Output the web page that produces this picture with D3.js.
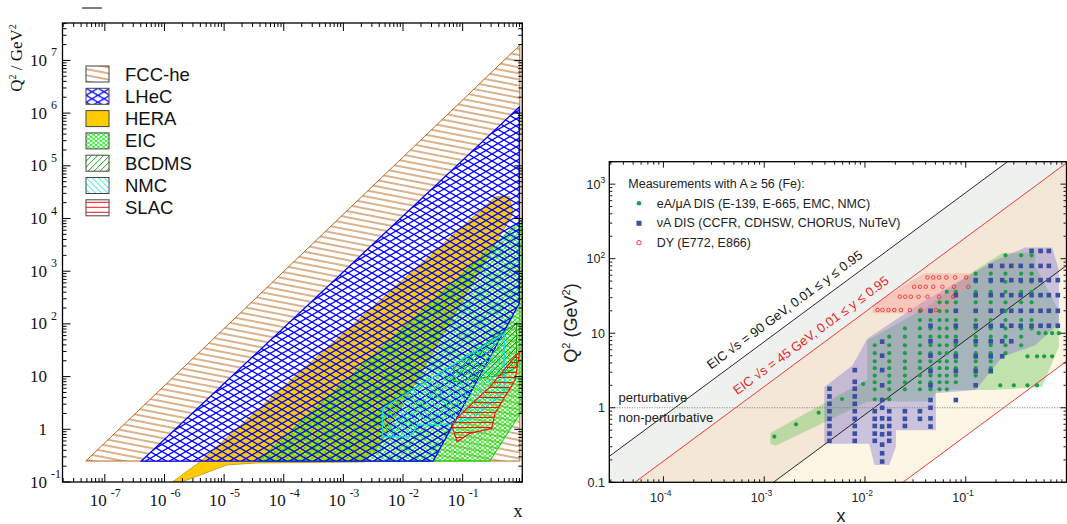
<!DOCTYPE html>
<html>
<head>
<script src="https://d3js.org/d3.v7.min.js"></script>
<style>
body { margin: 0; background: #fff; }
svg { display: block; }
.serif { font-family: "Liberation Serif", "DejaVu Serif", serif; }
.sans { font-family: "Liberation Sans", Arial, sans-serif; }
</style>
</head>
<body>
<svg width="1067" height="524"></svg>
<script>
// ---------- left panel: kinematic coverage, corners as [x, Q2] ----------
var fccEdge   = [[4.8e-8,0.25],[0.91,1.95e7],[0.91,0.25]];
var lhecEdge  = [[4.1e-7,0.25],[0.89,1.3e6],[0.89,245],[0.032,0.25]];
var heraEdge  = [[1.36e-6,0.1],[3.9e-6,0.24],[0.36,2.6e4],[0.61,2.6e4],[0.70,1.26e4],[0.056,88],
                 [3.9e-3,0.47],[2.3e-3,0.24],[3.5e-5,0.23],[1.1e-5,0.21],[1.93e-6,0.1]];
var eicEdge   = [[3.7e-5,0.25],[0.95,9300],[1,9300],[1,2.3],[0.287,0.25]];
var bcdmsEdge = [[0.07,16.6],[0.07,8],[0.47,10.7],[0.8,15.4],[0.8,103]];
var nmcEdge   = [[4.5e-3,2.5],[4.5e-3,0.72],[0.013,0.72],[0.018,1.2],[0.07,1.26],[0.15,1.64],[0.5,5.2],[0.5,66]];
var slacEdge  = [[0.0654,1.21],[0.081,0.58],[0.132,0.84],[0.307,1.04],[0.348,2.0],[0.755,8.6],[0.91,30],
                 [0.755,24],[0.287,6.4],[0.096,2.0]];
var legendNames = ["FCC-he","LHeC","HERA","EIC","BCDMS","NMC","SLAC"];
var leftXExp = [-7,-6,-5,-4,-3,-2,-1];
var leftYExp = [-1,0,1,2,3,4,5,6,7];

// ---------- right panel: nuclear data, Q2 = c*x boundary lines ----------
var lineCoef = [7695, 1924, 81, 4.2];
var greenZone = [[1.15e-3,0.33],[1.15e-3,0.46],[0.0105,2.4],[0.0105,8.0],[0.04,22],[0.116,66],[0.23,119],
                 [0.49,121],[0.49,80],[0.84,20],[0.84,6.6],[0.57,1.9],[0.18,1.73],[0.052,1.73],[0.045,1.22],
                 [0.0105,1.2],[1.3e-3,0.31]];
var blueZone  = [[3.95e-3,1.9],[3.95e-3,0.33],[0.011,0.33],[0.0124,0.17],[0.0174,0.17],[0.0203,0.30],
                 [0.0203,0.50],[0.0505,0.50],[0.0505,1.56],[0.1256,1.73],[0.23,4.8],[0.49,6.9],[0.84,13.5],
                 [0.84,70],[0.72,141],[0.39,141],[0.2,96],[0.037,26],[0.0106,8.5],[7.5e-3,3.7]];
var dyZone    = [[0.0119,18.5],[0.0119,24],[0.0387,64],[0.112,64],[0.112,48],[0.06,18.3]];

var greenCols = [
  [0.0125, [1.3,1.77,2.2,2.7,3.4,4.2,5.4,6.9]],
  [0.0174, [1.3,1.77,2.2,2.7,3.4,4.2,5.4,6.9,9.0]],
  [0.0249, [1.77,2.2,2.7,3.4,4.2,5.4,6.9,9.0,11.6]],
  [0.0351, [1.77,2.2,2.7,3.4,4.2,5.4,6.9,9.0,11.6,15,19.8]],
  [0.0447, [1.77,2.2,2.7,3.4,4.2,5.4,6.9,9.0,11.6,15,19.8]],
  [0.055,  [1.77,2.2,2.7,3.4,4.2,5.4,6.9,9.0,11.6,15,19.8,26]],
  [0.0649, [1.77,2.2,2.7,3.4,4.2,5.4,6.9,9.0,11.6,15,19.8,26,36]],
  [0.0797, [2.2,2.7,3.4,4.2,5.4,6.9,9.0,11.6,15,19.8,26,36]],
  [0.1256, [2.7,3.4,4.2,5.4,6.9,9.0,11.6,15,19.8,26,36,49,63]],
  [0.177,  [3.4,4.2,5.4,6.9,9.0,11.6,15,19.8,26,36,49,63]],
  [0.248,  [5.4,6.9,9.0,11.6,15,19.8,26,36,49,63,111]],
  [0.355,  [6.9,9.0,11.6,15,19.8,26,36,49,63,111]],
  [0.45,   [11.6,15,19.8,26,36,49,63,111]]
];
var greenExtra = [[1.26e-3,0.41],[2.07e-3,0.60],[3.47e-3,0.86],[5.92e-3,1.31],[9.6e-3,2.08],
                  [0.22,2.0],[0.30,2.0],[0.41,2.0],[0.51,2.0],[0.41,4.9],[0.51,4.9],[0.6,4.9],[0.72,4.9],
                  [0.53,10],[0.62,10],[0.72,10],[0.84,10]];
var blueCols = [
  [0.00444, [0.36,0.45,0.57,0.71,0.9,1.13,1.42,1.8]],
  [0.00792, [0.36,0.45,0.57,0.71,0.9,1.13,1.42,1.8,2.23,3.2]],
  [0.0125,  [0.36,0.45,0.57,0.71,0.9]],
  [0.0148,  [0.19,0.245,0.32,0.44,0.56,0.72,1.0,1.27,2.0,3.2,5.0,7.7]],
  [0.0174,  [0.36,0.45,0.57,0.71,0.9]],
  [0.0249,  [0.57,0.71,0.9]],
  [0.0351,  [0.71,0.9]],
  [0.0447,  [0.56,0.72,1.0,1.27,2.0,3.1,5.0,7.8,12.6,20]],
  [0.0797,  [1.27,3.1,4.9,7.8,12.6,20,32.4]],
  [0.1256,  [2.0,3.1,4.9,7.8,12.6,20,32.4,51.5]],
  [0.177,   [3.1,4.9,7.8,12.6,20,32.4,51.5,80]],
  [0.23,    [4.9,7.8,12.6,20,32.4,51.5,80]],
  [0.283,   [7.8,12.6,20,32.4,51.5,80]],
  [0.351,   [12.6,20,32.4,51.5,80]],
  [0.45,    [12.6,20,32.4,51.5,80,127]],
  [0.553,   [12.6,20,32.4,51.5,80,127]],
  [0.668,   [12.6,20,32.4,51.5,80,127]],
  [0.82,    [12.6,20,32.4,51.5]]
];
var dyRows = [
  [20.5, [0.0133,0.0149,0.0171,0.0195,0.0227,0.0279,0.0358,0.0505]],
  [30.9, [0.0222,0.0251,0.0285,0.034,0.0417,0.0544,0.0754]],
  [42,   [0.0307,0.0352,0.0401,0.0475,0.0587,0.0766,0.106]],
  [56,   [0.0417,0.0475,0.0544,0.0642,0.0784,0.101]]
];
var rightXExp = [-4,-3,-2,-1];
var rightYTicks = [0.1,1,10,100,1000];

var svg = d3.select("svg");

function logTicks(lo, hi) {
  var out = [];
  for (var e = Math.floor(Math.log10(lo)); e <= Math.ceil(Math.log10(hi)); e++) {
    for (var m = 1; m < 10; m++) {
      var v = m * Math.pow(10, e);
      if (v >= lo * 0.9999 && v <= hi * 1.0001) out.push({v: v, major: m === 1});
    }
  }
  return out;
}

// ---------- patterns ----------
var defs = svg.append("defs");
function hatch(id, w, h, d, color, sw, rot) {
  var p = defs.append("pattern").attr("id", id).attr("patternUnits", "userSpaceOnUse")
    .attr("width", w).attr("height", h);
  if (rot) p.attr("patternTransform", "rotate(" + rot + ")");
  p.append("path").attr("d", d).attr("stroke", color).attr("stroke-width", sw).attr("fill", "none");
}
hatch("pFCC", 40, 6, "M-1,3H41", "#b8661a", 1.1, 11);
hatch("pLHeC", 12, 7, "M0,0L12,7M0,7L12,0", "#0000ff", 1.25);
hatch("pEIC", 5, 4, "M0,0L5,4M0,4L5,0", "#00ee00", 0.9);
hatch("pBCDMS", 6, 6, "M0,6L6,0M-1,1L1,-1M5,7L7,5", "#1c9a1c", 1);
hatch("pNMC", 6, 6, "M0,0L6,6M-1,5L1,7M5,-1L7,1", "#10e0e0", 1);
hatch("pSLAC", 6, 5, "M0,2.5H6", "#ff1010", 1);

// ================= LEFT PANEL =================
var L = {x0: 62.5, x1: 522.3, y0: 23, y1: 482};
var xs1 = d3.scaleLog().domain([Math.pow(10, -7.71), 1]).range([L.x0, L.x1]);
var ys1 = d3.scaleLog().domain([0.1, Math.pow(10, 7.71)]).range([L.y1, L.y0]);

defs.append("clipPath").attr("id", "clipL").append("rect")
  .attr("x", L.x0).attr("y", L.y0).attr("width", L.x1 - L.x0).attr("height", L.y1 - L.y0);

var area1 = d3.line().x(function(d) { return xs1(d[0]); }).y(function(d) { return ys1(d[1]); });
function poly1(pts) { return area1(pts) + "Z"; }

var gl = svg.append("g").attr("clip-path", "url(#clipL)");
gl.append("path").attr("d", poly1(fccEdge)).attr("fill", "url(#pFCC)").attr("stroke", "#b8661a");
gl.append("path").attr("d", poly1(lhecEdge)).attr("fill", "#fff");
gl.append("path").attr("d", poly1(heraEdge)).attr("fill", "#ffcc00");
gl.append("path").attr("d", poly1(eicEdge)).attr("fill", "url(#pEIC)").attr("stroke", "#00e000");
gl.append("path").attr("d", poly1(heraEdge)).attr("fill", "none").attr("stroke", "#b89020").attr("stroke-width", 0.8);
gl.append("path").attr("d", poly1(lhecEdge)).attr("fill", "url(#pLHeC)").attr("stroke", "#0000ff").attr("stroke-width", 1.3);
gl.append("path").attr("d", poly1(bcdmsEdge)).attr("fill", "url(#pBCDMS)").attr("stroke", "#1c9a1c");
gl.append("path").attr("d", poly1(nmcEdge)).attr("fill", "url(#pNMC)").attr("stroke", "#10e0e0").attr("stroke-width", 1.2);
gl.append("path").attr("d", poly1(slacEdge)).attr("fill", "url(#pSLAC)").attr("stroke", "#ff1010").attr("stroke-width", 1.2);

// frame and ticks
svg.append("rect").attr("x", L.x0).attr("y", L.y0).attr("width", L.x1 - L.x0).attr("height", L.y1 - L.y0)
  .attr("fill", "none").attr("stroke", "#000").attr("stroke-width", 1.3);
var tk = svg.append("g").attr("stroke", "#000").attr("stroke-width", 1);
logTicks(xs1.domain()[0], 1).forEach(function(t) {
  var x = xs1(t.v), len = t.major ? 8 : 4;
  tk.append("line").attr("x1", x).attr("x2", x).attr("y1", L.y1).attr("y2", L.y1 - len);
  tk.append("line").attr("x1", x).attr("x2", x).attr("y1", L.y0).attr("y2", L.y0 + len);
});
logTicks(0.1, ys1.domain()[1]).forEach(function(t) {
  var y = ys1(t.v), len = t.major ? 8 : 4;
  tk.append("line").attr("x1", L.x0).attr("x2", L.x0 + len).attr("y1", y).attr("y2", y);
  tk.append("line").attr("x1", L.x1).attr("x2", L.x1 - len).attr("y1", y).attr("y2", y);
});

// tick labels
var lab1 = svg.append("g").attr("class", "serif").attr("fill", "#111");
leftYExp.forEach(function(e) {
  var y = ys1(Math.pow(10, e));
  if (e === 0 || e === 1) {
    lab1.append("text").attr("x", 47).attr("y", y + 5.5).attr("text-anchor", "end")
      .style("font-size", "17px").text(e === 0 ? "1" : "10");
  } else {
    lab1.append("text").attr("x", 47).attr("y", y + 5.5).attr("text-anchor", "end")
      .style("font-size", "17px").text("10");
    lab1.append("text").attr("x", 51).attr("y", y - 4).style("font-size", "12px").text(e);
  }
});
leftXExp.forEach(function(e) {
  var x = xs1(Math.pow(10, e));
  lab1.append("text").attr("x", x + 2).attr("y", 506).attr("text-anchor", "end")
    .style("font-size", "17px").text("10");
  lab1.append("text").attr("x", x + 6).attr("y", 497).style("font-size", "12px").text(e);
});
lab1.append("text").attr("x", 518).attr("y", 517).attr("text-anchor", "middle")
  .style("font-size", "18px").text("x");
var yt1 = lab1.append("text").attr("transform", "translate(22,58) rotate(-90)")
  .attr("text-anchor", "middle").style("font-size", "17px");
yt1.append("tspan").text("Q");
yt1.append("tspan").attr("dy", -6).style("font-size", "10px").text("2");
yt1.append("tspan").attr("dy", 6).text(" / GeV");
yt1.append("tspan").attr("dy", -6).style("font-size", "10px").text("2");
svg.append("line").attr("x1", 82).attr("x2", 102).attr("y1", 8).attr("y2", 8)
  .attr("stroke", "#000").attr("stroke-width", 1);

// legend
var legFills = ["url(#pFCC)", "url(#pLHeC)", "#ffcc00", "url(#pEIC)", "url(#pBCDMS)", "url(#pNMC)", "url(#pSLAC)"];
var leg1 = svg.append("g").selectAll("g").data(legendNames).enter().append("g")
  .attr("transform", function(d, i) { return "translate(86," + (66 + i * 22.3) + ")"; });
leg1.append("rect").attr("width", 23).attr("height", 16).attr("fill", "#fff");
leg1.append("rect").attr("width", 23).attr("height", 16)
  .attr("fill", function(d, i) { return legFills[i]; })
  .attr("stroke", "#444").attr("stroke-width", 1);
leg1.append("text").attr("class", "sans").attr("x", 39).attr("y", 14.5)
  .style("font-size", "18.5px").attr("fill", "#111").text(function(d) { return d; });

// ================= RIGHT PANEL =================
var R = {x0: 609.3, x1: 1066.5, y0: 161.7, y1: 482.3};
var xs2 = d3.scaleLog().domain([2.9e-5, 1]).range([R.x0, R.x1]);
var ys2 = d3.scaleLog().domain([0.1, 2000]).range([R.y1, R.y0]);
var xa = xs2.domain()[0], xb = xs2.domain()[1];

defs.append("clipPath").attr("id", "clipR").append("rect")
  .attr("x", R.x0).attr("y", R.y0).attr("width", R.x1 - R.x0).attr("height", R.y1 - R.y0);
var line2 = d3.line().x(function(d) { return xs2(d[0]); }).y(function(d) { return ys2(d[1]); });
function poly2(pts) { return line2(pts) + "Z"; }

var gr = svg.append("g").attr("clip-path", "url(#clipR)");
var bandColors = ["#eff1ee", "#f4e7d5", "#fdf6e5"];
bandColors.forEach(function(c, i) {
  var c1 = lineCoef[i], c2 = lineCoef[i + 1];
  gr.append("path").attr("fill", c)
    .attr("d", poly2([[xa, c1 * xa], [xb, c1 * xb], [xb, c2 * xb], [xa, c2 * xa]]));
});
gr.append("path").attr("d", poly2(greenZone)).attr("fill", "rgba(110,195,95,0.42)");
gr.append("path").attr("d", poly2(blueZone)).attr("fill", "rgba(120,110,210,0.38)");
gr.append("path").attr("d", poly2(dyZone)).attr("fill", "rgba(255,140,140,0.35)");

var lineColors = ["#111", "#e8262a", "#111", "#e8262a"];
lineCoef.forEach(function(c, i) {
  gr.append("path").attr("d", line2([[xa, c * xa], [xb, c * xb]]))
    .attr("stroke", lineColors[i]).attr("stroke-width", 0.9).attr("fill", "none");
});
gr.append("line").attr("x1", R.x0).attr("x2", R.x1).attr("y1", ys2(1)).attr("y2", ys2(1))
  .attr("stroke", "#777").attr("stroke-width", 1).attr("stroke-dasharray", "1,1.5");

// markers
var gpts = [];
greenCols.forEach(function(c) { c[1].forEach(function(q) { gpts.push([c[0], q]); }); });
greenExtra.forEach(function(p) { gpts.push(p); });
var bpts = [];
blueCols.forEach(function(c) { c[1].forEach(function(q) { bpts.push([c[0], q]); }); });
var rpts = [];
dyRows.forEach(function(r) { r[1].forEach(function(x) { rpts.push([x, r[0]]); }); });

gr.selectAll(".gd").data(gpts).enter().append("circle").attr("class", "gd")
  .attr("cx", function(d) { return xs2(d[0]); }).attr("cy", function(d) { return ys2(d[1]); })
  .attr("r", 2.1).attr("fill", "#1e9c48");
gr.selectAll(".bs").data(bpts).enter().append("rect").attr("class", "bs")
  .attr("x", function(d) { return xs2(d[0]) - 2.3; }).attr("y", function(d) { return ys2(d[1]) - 2.3; })
  .attr("width", 4.6).attr("height", 4.6).attr("fill", "#3a4ea2");
gr.selectAll(".rc").data(rpts).enter().append("circle").attr("class", "rc")
  .attr("cx", function(d) { return xs2(d[0]); }).attr("cy", function(d) { return ys2(d[1]); })
  .attr("r", 1.8).attr("fill", "none").attr("stroke", "#e8262a").attr("stroke-width", 0.8);

// rotated line labels
var lblAngle = -Math.atan((ys2(1) - ys2(10)) / (xs2(0.1) - xs2(0.01))) * 180 / Math.PI;
function lineLabel(x0, c, color, txt) {
  svg.append("text").attr("class", "sans")
    .attr("transform", "translate(" + xs2(x0) + "," + ys2(c * x0) + ") rotate(" + lblAngle + ")")
    .attr("dy", -9).attr("fill", color).style("font-size", "13px").text(txt);
}
lineLabel(3.35e-4, lineCoef[0], "#111", "EIC \u221As = 90 GeV, 0.01 \u2264 y \u2264 0.95");
lineLabel(6.1e-4, lineCoef[1], "#e8262a", "EIC \u221As = 45 GeV, 0.01 \u2264 y \u2264 0.95");

svg.append("text").attr("class", "sans").attr("x", 618.5).attr("y", 402).attr("fill", "#222")
  .style("font-size", "13px").text("perturbative");
svg.append("text").attr("class", "sans").attr("x", 618.5).attr("y", 421.5).attr("fill", "#222")
  .style("font-size", "13px").text("non-perturbative");

// legend
var lg2 = svg.append("g").attr("class", "sans").attr("fill", "#222");
lg2.append("text").attr("x", 628.3).attr("y", 187.5).style("font-size", "12.5px")
  .text("Measurements with A \u2265 56 (Fe):");
lg2.append("circle").attr("cx", 639).attr("cy", 203.3).attr("r", 2.3).attr("fill", "#1e9c48");
lg2.append("rect").attr("x", 636.5).attr("y", 220.8).attr("width", 5).attr("height", 5).attr("fill", "#3a4ea2");
lg2.append("circle").attr("cx", 639).attr("cy", 242.7).attr("r", 2.2).attr("fill", "none")
  .attr("stroke", "#e8262a").attr("stroke-width", 0.9);
lg2.append("text").attr("x", 656.7).attr("y", 207.5).style("font-size", "12.5px").text("eA/\u03BCA DIS (E-139, E-665, EMC, NMC)");
lg2.append("text").attr("x", 656.7).attr("y", 227.3).style("font-size", "12.5px").text("\u03BDA DIS (CCFR, CDHSW, CHORUS, NuTeV)");
lg2.append("text").attr("x", 656.7).attr("y", 246.7).style("font-size", "12.5px").text("DY (E772, E866)");

// frame and ticks
svg.append("rect").attr("x", R.x0).attr("y", R.y0).attr("width", R.x1 - R.x0).attr("height", R.y1 - R.y0)
  .attr("fill", "none").attr("stroke", "#000").attr("stroke-width", 1.3);
var tk2 = svg.append("g").attr("stroke", "#000").attr("stroke-width", 0.9);
logTicks(xa, xb).forEach(function(t) {
  var x = xs2(t.v), len = t.major ? 6 : 3;
  tk2.append("line").attr("x1", x).attr("x2", x).attr("y1", R.y1).attr("y2", R.y1 - len);
  tk2.append("line").attr("x1", x).attr("x2", x).attr("y1", R.y0).attr("y2", R.y0 + len);
});
logTicks(0.1, 2000).forEach(function(t) {
  var y = ys2(t.v), len = t.major ? 6 : 3;
  tk2.append("line").attr("x1", R.x0).attr("x2", R.x0 + len).attr("y1", y).attr("y2", y);
  tk2.append("line").attr("x1", R.x1).attr("x2", R.x1 - len).attr("y1", y).attr("y2", y);
});

var lab2 = svg.append("g").attr("class", "sans").attr("fill", "#222");
rightYTicks.forEach(function(v) {
  var y = ys2(v);
  if (v >= 100) {
    lab2.append("text").attr("x", 600.5).attr("y", y + 4.5).attr("text-anchor", "end")
      .style("font-size", "12.5px").text("10");
    lab2.append("text").attr("x", 600.5).attr("y", y - 1).style("font-size", "8.5px")
      .text(Math.round(Math.log10(v)));
  } else {
    lab2.append("text").attr("x", 605).attr("y", y + 4.5).attr("text-anchor", "end")
      .style("font-size", "12.5px").text(v === 0.1 ? "0.1" : v);
  }
});
rightXExp.forEach(function(e) {
  var x = xs2(Math.pow(10, e));
  lab2.append("text").attr("x", x + 0.5).attr("y", 501.5).attr("text-anchor", "end")
    .style("font-size", "12.5px").text("10");
  lab2.append("text").attr("x", x + 0.5).attr("y", 496).style("font-size", "8.5px").text(e);
});
lab2.append("text").attr("x", 841).attr("y", 521.5).attr("text-anchor", "middle")
  .style("font-size", "18px").text("x");
var yt2 = lab2.append("text").attr("transform", "translate(577,323) rotate(-90)")
  .attr("text-anchor", "middle").style("font-size", "18px");
yt2.append("tspan").text("Q");
yt2.append("tspan").attr("dy", -7).style("font-size", "11px").text("2");
yt2.append("tspan").attr("dy", 7).text(" (GeV");
yt2.append("tspan").attr("dy", -7).style("font-size", "11px").text("2");
yt2.append("tspan").attr("dy", 7).text(")");
</script>
</body>
</html>
